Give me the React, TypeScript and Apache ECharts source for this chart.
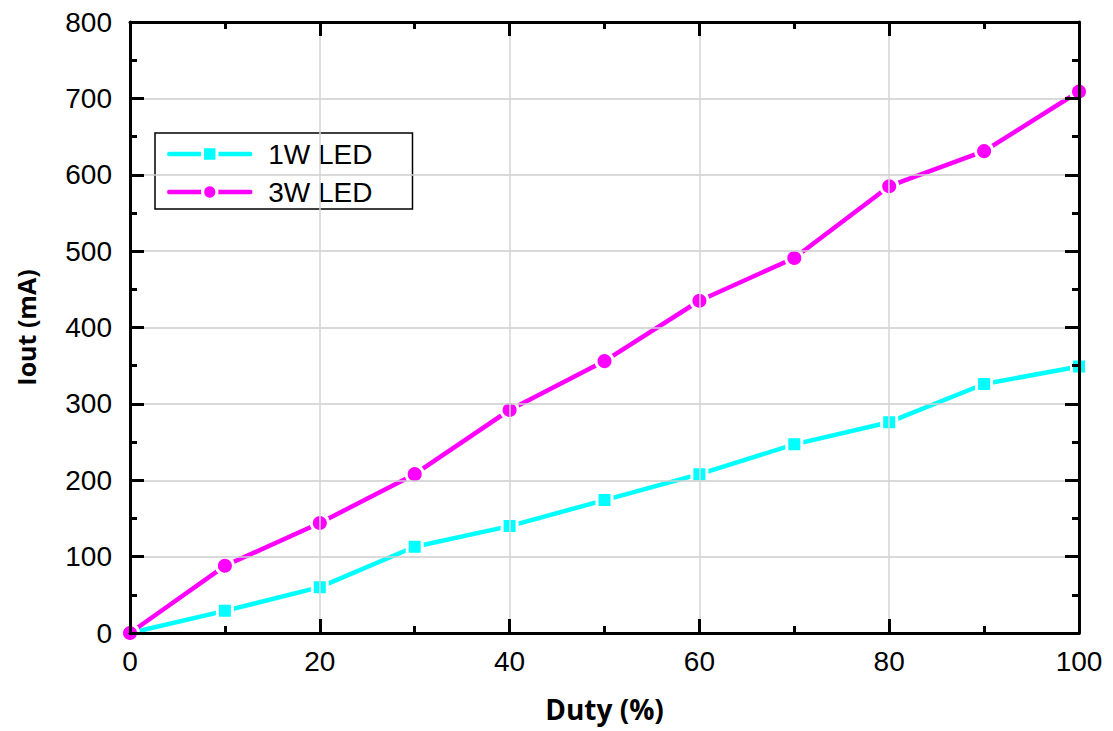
import React, { useEffect, useRef } from "react";
import * as echarts from "echarts";

const duty = [0, 10, 20, 30, 40, 50, 60, 70, 80, 90, 100];
const led1W = [0, 29, 60, 113, 140, 174, 208, 247, 276, 326, 349];
const led3W = [0, 88, 144, 208, 292, 356, 435, 491, 585, 631, 709];
const seriesNames = ["1W LED", "3W LED"];

const FONT = "Liberation Sans, Arial, sans-serif";
const NAME_FONT = "Open Sans, Liberation Sans, sans-serif";

export default function App() {
  const ref = useRef<HTMLDivElement>(null);
  useEffect(() => {
    document.body.style.margin = "0";
    if (!ref.current) return;
    const chart = echarts.init(ref.current, null, { renderer: "svg" });
    const axisLine = { show: true, onZero: false, lineStyle: { color: "#000", width: 3 } };
    const tick = { show: true, inside: true, length: 14, lineStyle: { color: "#000", width: 3 } };
    const minor = { show: true, splitNumber: 2, length: 7, lineStyle: { color: "#000", width: 3 } };
    const label = { color: "#000", fontSize: 28, fontFamily: FONT };
    chart.setOption({
      animation: false,
      backgroundColor: "#fff",
      grid: { left: 130, right: 34, top: 22, bottom: 98, containLabel: false },
      legend: {
        orient: "vertical",
        left: 155,
        top: 133,
        padding: [7, 40, 3, 12],
        borderColor: "#000",
        borderWidth: 1.5,
        backgroundColor: "#fff",
        itemWidth: 81,
        itemHeight: 18,
        itemGap: 10,
        lineStyle: { width: 4.5 },
        itemStyle: { borderColor: "#fff", borderWidth: 3 },
        textStyle: { color: "#000", fontSize: 28, fontFamily: FONT, padding: [0, 0, 0, 13] },
        data: seriesNames,
      },
      xAxis: [
        {
          type: "value",
          min: 0,
          max: 100,
          interval: 20,
          position: "bottom",
          name: "Duty (%)",
          nameLocation: "middle",
          nameGap: 62,
          nameTextStyle: { color: "#000", fontSize: 28, fontWeight: "bold", fontFamily: NAME_FONT },
          axisLine,
          axisTick: tick,
          minorTick: minor,
          axisLabel: { ...label, margin: 14 },
          splitLine: { show: true, lineStyle: { color: "#d4d4d4", width: 1.5 } },
          z: 10,
        },
        {
          type: "value",
          min: 0,
          max: 100,
          interval: 20,
          position: "top",
          axisLine,
          axisTick: tick,
          minorTick: minor,
          axisLabel: { show: false },
          splitLine: { show: false },
          z: 10,
        },
      ],
      yAxis: [
        {
          type: "value",
          min: 0,
          max: 800,
          interval: 100,
          position: "left",
          name: "Iout (mA)",
          nameLocation: "middle",
          nameGap: 92,
          nameTextStyle: { color: "#000", fontSize: 25, fontWeight: "bold", fontFamily: NAME_FONT },
          axisLine,
          axisTick: tick,
          minorTick: minor,
          axisLabel: { ...label, margin: 18 },
          splitLine: { show: true, lineStyle: { color: "#cccccc", width: 1.5 } },
          z: 10,
        },
        {
          type: "value",
          min: 0,
          max: 800,
          interval: 100,
          position: "right",
          axisLine,
          axisTick: tick,
          minorTick: minor,
          axisLabel: { show: false },
          splitLine: { show: false },
          z: 10,
        },
      ],
      series: [
        {
          name: seriesNames[0],
          type: "line",
          data: duty.map((d, i) => [d, led1W[i]]),
          symbol: "rect",
          symbolSize: 15,
          lineStyle: { color: "#00ffff", width: 4.5, cap: "round" },
          itemStyle: { color: "#00ffff", borderColor: "#fff", borderWidth: 3 },
          clip: true,
          z: 3,
        },
        {
          name: seriesNames[1],
          type: "line",
          data: duty.map((d, i) => [d, led3W[i]]),
          symbol: "circle",
          symbolSize: 17,
          lineStyle: { color: "#ff00ff", width: 4.5, cap: "round" },
          itemStyle: { color: "#ff00ff", borderColor: "#fff", borderWidth: 3 },
          clip: true,
          z: 4,
        },
      ],
    });
    return () => chart.dispose();
  }, []);
  return <div ref={ref} style={{ width: 1113, height: 731 }} />;
}
